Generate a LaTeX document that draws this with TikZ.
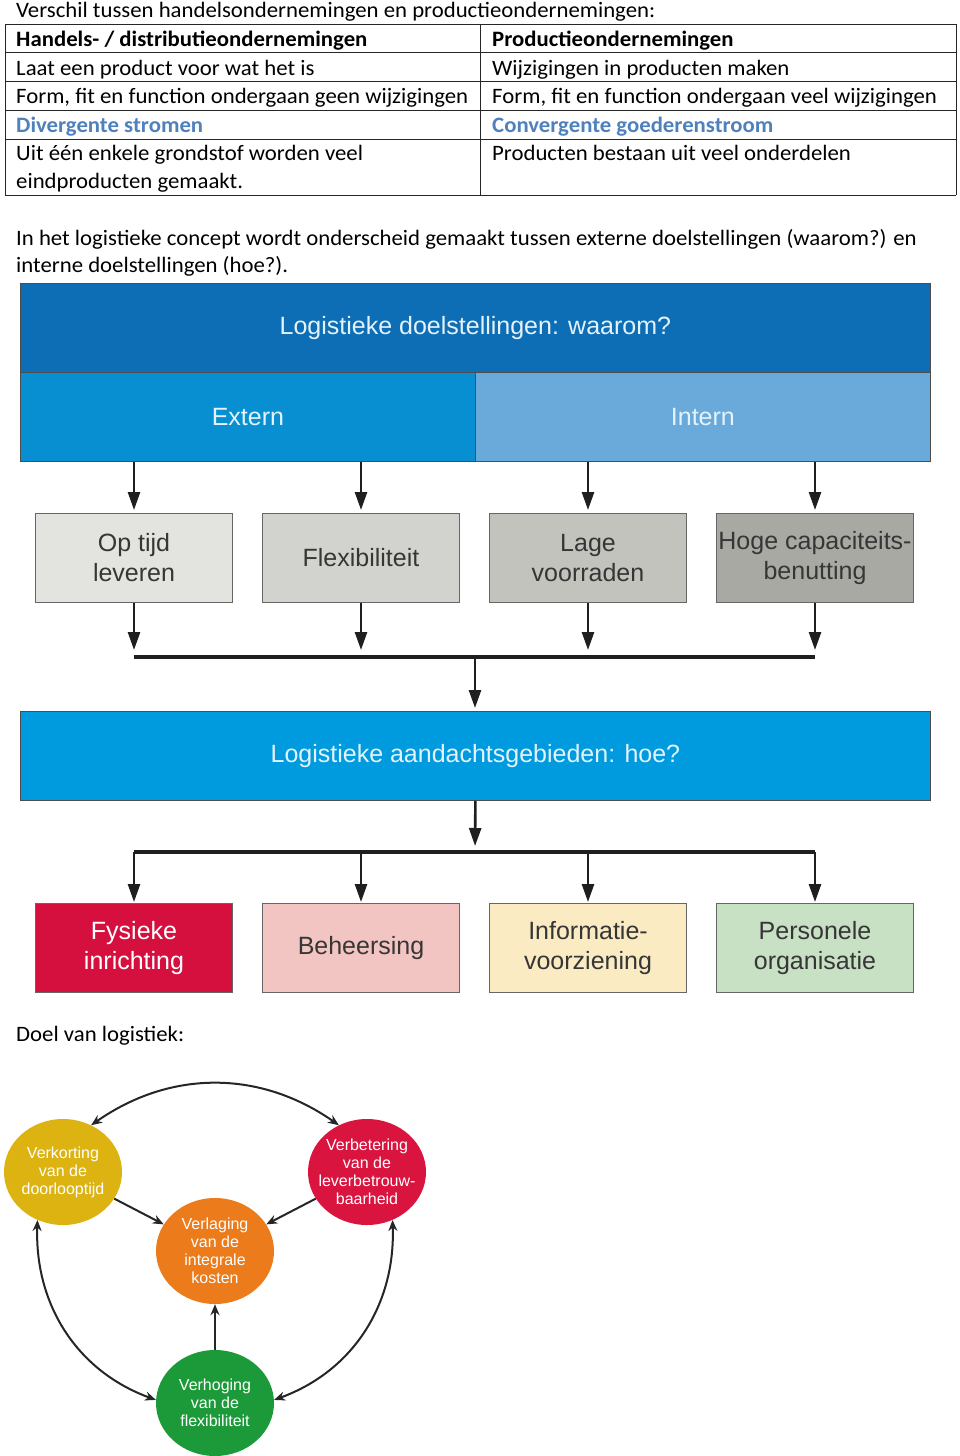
\documentclass[tikz,border=0pt]{standalone}
\usepackage{fontspec}
\setmainfont{Carlito}[FakeStretch=1.035]
\newfontfamily\fgfont{Liberation Sans}
\usetikzlibrary{shapes.geometric,arrows.meta}
\definecolor{tblblue}{HTML}{4F81BD}
\definecolor{topblue}{HTML}{0D6EB5}
\definecolor{extblue}{HTML}{088FD2}
\definecolor{intblue}{HTML}{6AAADB}
\definecolor{hoeblue}{HTML}{009BDE}
\definecolor{lighttext}{HTML}{E4F3FB}
\definecolor{grayA}{HTML}{E3E3DF}
\definecolor{grayB}{HTML}{D2D2CE}
\definecolor{grayC}{HTML}{C3C3BD}
\definecolor{grayD}{HTML}{A9A9A3}
\definecolor{boxtext}{HTML}{363636}
\definecolor{fysred}{HTML}{D5103F}
\definecolor{behpink}{HTML}{F3C5C2}
\definecolor{infcream}{HTML}{FAEBC3}
\definecolor{pergreen}{HTML}{C8E0C4}
\definecolor{cyel}{HTML}{DDB311}
\definecolor{cred}{HTML}{D8143F}
\definecolor{corg}{HTML}{EC7B1C}
\definecolor{cgrn}{HTML}{1C9A3A}
\begin{document}
\begin{tikzpicture}[x=1pt,y=-1pt,
  tbl/.style={anchor=base west, inner sep=0pt, font=\fontsize{22}{27.6}\selectfont},
  tblbold/.style={tbl, font=\bfseries\fontsize{22}{27.6}\selectfont},
  tblline/.style={line width=1pt, draw=black!85},
  bigbox/.style={anchor=north west, draw=black!70, line width=0.8pt, minimum width=910pt, minimum height=89pt, inner sep=0pt, text=lighttext, font=\fgfont\fontsize{25}{30}\selectfont},
  halfbox/.style={anchor=north west, draw=black!70, line width=0.8pt, minimum width=455pt, minimum height=89pt, inner sep=0pt, text=lighttext, font=\fgfont\fontsize{25}{30}\selectfont},
  smallbox/.style={anchor=north west, draw=black!60, line width=1pt, minimum width=197pt, minimum height=89pt, inner sep=1pt, align=center, text=boxtext, font=\fgfont\fontsize{25}{30}\selectfont},
  arr/.style={line width=2.6pt, draw=black!88, -{Triangle[length=18pt,width=12pt]}},
  bar/.style={line width=4pt, draw=black!88},
  circ/.style={ellipse, minimum width=118pt, minimum height=106pt, inner sep=0pt},
  ctext/.style={align=center, text=white, font=\fgfont\fontsize{16}{18}\selectfont},
  ctip/.style={line width=2pt, draw=black!85, -{Stealth[length=11pt,width=9pt]}},
  cboth/.style={line width=2pt, draw=black!85, {Stealth[length=11pt,width=9pt]}-{Stealth[length=11pt,width=9pt]}}
]
\path[fill=white, use as bounding box] (0,0) rectangle (960,1456);

% ---------- table ----------
\node[tbl] (t0) at (16,17.3) {Verschil tussen handelsondernemingen en productieondernemingen:};
\foreach \yy in {24,52.5,81,110,139,195} \draw[tblline] (5,\yy) -- (956,\yy);
\foreach \xx in {5,480,956} \draw[tblline] (\xx,24) -- (\xx,195);
\node[tblbold] (h1) at (16,46) {Handels- / distributieondernemingen};
\node[tblbold] (h2) at (492,46) {Productieondernemingen};
\node[tbl] (a1) at (16,75) {Laat een product voor wat het is};
\node[tbl] (a2) at (492,75) {Wijzigingen in producten maken};
\node[tbl] (b1) at (16,103.5) {Form, fit en function ondergaan geen wijzigingen};
\node[tbl] (b2) at (492,103.5) {Form, fit en function ondergaan veel wijzigingen};
\node[tblbold, text=tblblue] (c1) at (16,132) {Divergente stromen};
\node[tblbold, text=tblblue] (c2) at (492,132) {Convergente goederenstroom};
\node[tbl] (d1) at (16,160.8) {Uit één enkele grondstof worden veel};
\node[tbl] (d1b) at (16,188.3) {eindproducten gemaakt.};
\node[tbl] (d2) at (492,160.8) {Producten bestaan uit veel onderdelen};

\node[tbl] (p1) at (16,245) {In het logistieke concept wordt onderscheid gemaakt tussen externe doelstellingen (waarom?) en};
\node[tbl] (p2) at (16,272) {interne doelstellingen (hoe?).};

% ---------- flowchart ----------
\node[bigbox, fill=topblue] (goal) at (20,283) {Logistieke doelstellingen: waarom?};
\node[halfbox, fill=extblue] (ext) at (20,372) {Extern};
\node[halfbox, fill=intblue] (int) at (475,372) {Intern};

\node[smallbox, fill=grayA] (op) at (35,513) {Op tijd\\leveren};
\node[smallbox, fill=grayB] (flex) at (262,513) {Flexibiliteit};
\node[smallbox, fill=grayC] (lage) at (489,513) {Lage\\voorraden};
\node[smallbox, fill=grayD] (hoge) at (716,513) {Hoge capaciteits-\\benutting};

\draw[arr, shorten >=3pt] (op.north |- ext.south) -- (op.north);
\draw[arr, shorten >=3pt] (flex.north |- ext.south) -- (flex.north);
\draw[arr, shorten >=3pt] (lage.north |- int.south) -- (lage.north);
\draw[arr, shorten >=3pt] (hoge.north |- int.south) -- (hoge.north);

\coordinate (barL) at (134,657);
\coordinate (barR) at (815,657);
\coordinate (barM) at (475,657);
\draw[arr, shorten >=7pt] (op.south) -- (op.south |- barL);
\draw[arr, shorten >=7pt] (flex.south) -- (flex.south |- barL);
\draw[arr, shorten >=7pt] (lage.south) -- (lage.south |- barL);
\draw[arr, shorten >=7pt] (hoge.south) -- (hoge.south |- barL);
\draw[bar] (barL) -- (barR);

\node[bigbox, fill=hoeblue] (hoe) at (20,711) {Logistieke aandachtsgebieden: hoe?};
\draw[arr, shorten >=3pt] (barM) -- (barM |- hoe.north);

\node[smallbox, fill=fysred, text=white] (fys) at (35,903) {Fysieke\\inrichting};
\node[smallbox, fill=behpink] (beh) at (262,903) {Beheersing};
\node[smallbox, fill=infcream] (inf) at (489,903) {Informatie-\\voorziening};
\node[smallbox, fill=pergreen] (per) at (716,903) {Personele\\organisatie};

\coordinate (bar2L) at (134,852);
\coordinate (bar2R) at (815,852);
\coordinate (bar2M) at (475,852);
\draw[arr, shorten >=6pt] (hoe.south) -- (bar2M);
\draw[bar] (bar2L) -- (bar2R);
\draw[arr, shorten >=1pt] (fys.north |- bar2L) -- (fys.north);
\draw[arr, shorten >=1pt] (beh.north |- bar2L) -- (beh.north);
\draw[arr, shorten >=1pt] (inf.north |- bar2L) -- (inf.north);
\draw[arr, shorten >=1pt] (per.north |- bar2L) -- (per.north);

% ---------- doel ----------
\node[tbl] (doel) at (16,1041) {Doel van logistiek:};

\node[circ, fill=cyel, label={[ctext]center:Verkorting\\van de\\doorlooptijd}] (yel) at (63,1172) {};
\node[circ, fill=cred, label={[ctext]center:Verbetering\\van de\\leverbetrouw-\\baarheid}] (red) at (367,1172) {};
\node[circ, fill=corg, label={[ctext]center:Verlaging\\van de\\integrale\\kosten}] (org) at (215,1251) {};
\node[circ, fill=cgrn, label={[ctext]center:Verhoging\\van de\\flexibiliteit}] (grn) at (215,1403) {};

\draw[cboth] (yel.59) to[out=35,in=145] (red.121);
\draw[cboth] (yel.242) to[out=-92,in=160] (grn.177);
\draw[cboth] (red.298) to[out=-88,in=20] (grn.3);
\draw[ctip] (yel) -- (org);
\draw[ctip] (red) -- (org);
\draw[ctip] (grn) -- (org);
\end{tikzpicture}
\end{document}
